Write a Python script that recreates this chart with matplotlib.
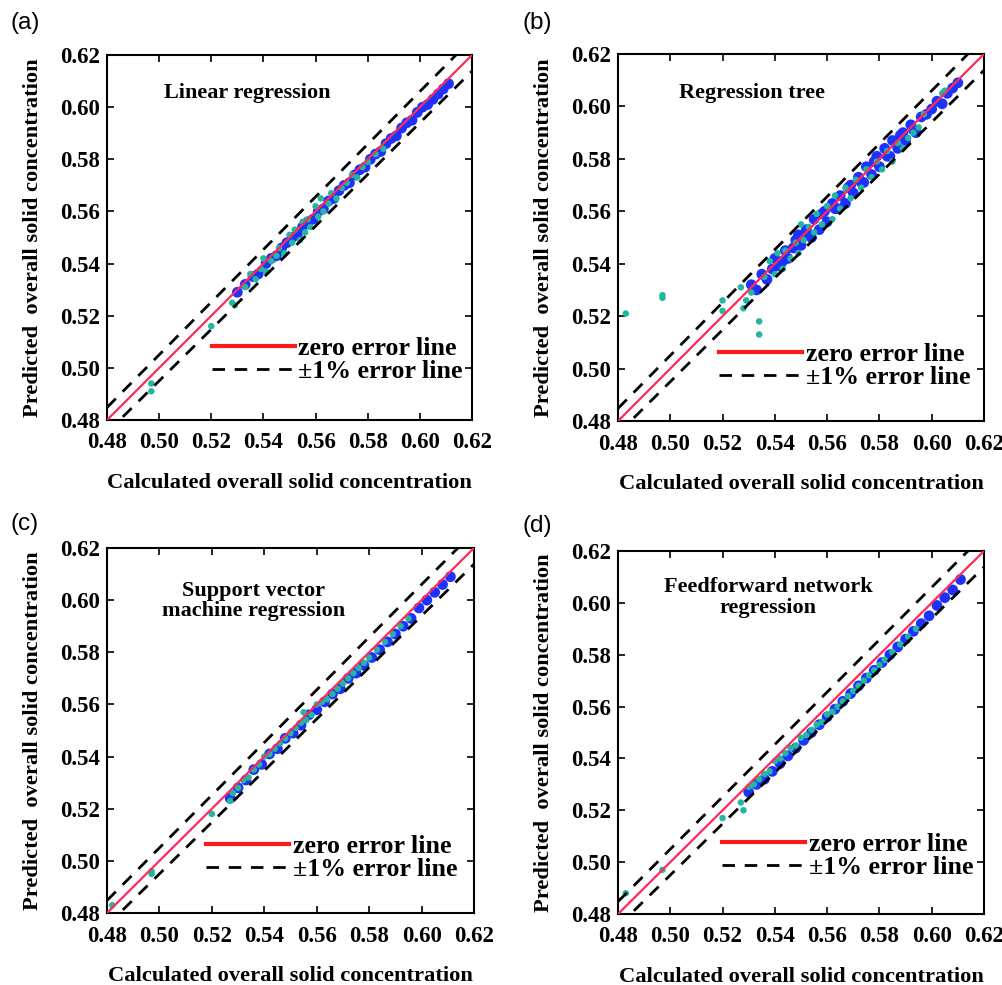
import matplotlib
matplotlib.use("Agg")
import matplotlib.pyplot as plt
from matplotlib.font_manager import FontProperties
import numpy as np

# ---------------- data ----------------
panel_tags = ["(a)", "(b)", "(c)", "(d)"]
panel_titles = ["Linear regression", "Regression tree",
                "Support vector\nmachine regression",
                "Feedforward network\nregression"]
tick_values = [0.48, 0.50, 0.52, 0.54, 0.56, 0.58, 0.60, 0.62]
tick_labels = ["0.48", "0.50", "0.52", "0.54", "0.56", "0.58", "0.60", "0.62"]
err_frac = 0.01

# (a) Linear regression
a_blue_x = [0.530, 0.533, 0.536, 0.538, 0.541, 0.543, 0.545, 0.547, 0.549, 0.551, 0.553, 0.555, 0.557, 0.559,
            0.561, 0.563, 0.565, 0.567, 0.569, 0.571, 0.573, 0.575, 0.577, 0.579, 0.581, 0.583, 0.585, 0.587,
            0.589, 0.591, 0.593, 0.595, 0.597, 0.599, 0.601, 0.603, 0.605, 0.607, 0.609, 0.611]
a_blue_y = [0.529, 0.532, 0.535, 0.536, 0.540, 0.542, 0.543, 0.546, 0.548, 0.550, 0.551, 0.554, 0.556, 0.557,
            0.560, 0.561, 0.564, 0.565, 0.568, 0.570, 0.571, 0.574, 0.576, 0.577, 0.580, 0.582, 0.583, 0.586,
            0.588, 0.589, 0.592, 0.594, 0.595, 0.598, 0.600, 0.601, 0.603, 0.605, 0.607, 0.609]
a_teal_x = [0.497, 0.497, 0.520, 0.528, 0.529, 0.533, 0.535, 0.537, 0.539, 0.540, 0.541, 0.543, 0.545, 0.546,
            0.548, 0.550, 0.551, 0.552, 0.554, 0.555, 0.556, 0.557, 0.558, 0.560, 0.561, 0.562, 0.563, 0.565,
            0.566, 0.568, 0.570, 0.572, 0.574, 0.576, 0.578, 0.580, 0.583, 0.586]
a_teal_y = [0.491, 0.494, 0.516, 0.525, 0.524, 0.531, 0.536, 0.534, 0.538, 0.542, 0.537, 0.541, 0.543, 0.546,
            0.544, 0.551, 0.548, 0.553, 0.549, 0.556, 0.552, 0.557, 0.554, 0.562, 0.558, 0.565, 0.560, 0.563,
            0.567, 0.565, 0.569, 0.571, 0.574, 0.573, 0.577, 0.579, 0.582, 0.584]

# (b) Regression tree
b_blue_x = [0.531, 0.533, 0.535, 0.537, 0.539, 0.540, 0.542, 0.544, 0.545, 0.547, 0.549, 0.550, 0.552, 0.554,
            0.555, 0.557, 0.559, 0.560, 0.562, 0.564, 0.565, 0.567, 0.569, 0.570, 0.572, 0.574, 0.575, 0.577,
            0.579, 0.580, 0.582, 0.584, 0.585, 0.587, 0.589, 0.590, 0.592, 0.594, 0.596, 0.598, 0.600, 0.602,
            0.604, 0.606, 0.608, 0.610, 0.543, 0.548, 0.553, 0.558, 0.563, 0.568, 0.573, 0.578, 0.583, 0.588,
            0.593]
b_blue_y = [0.532, 0.530, 0.536, 0.534, 0.538, 0.542, 0.539, 0.545, 0.542, 0.546, 0.551, 0.547, 0.553, 0.550,
            0.557, 0.553, 0.560, 0.556, 0.563, 0.561, 0.566, 0.563, 0.570, 0.567, 0.573, 0.571, 0.577, 0.574,
            0.581, 0.577, 0.584, 0.581, 0.587, 0.584, 0.590, 0.587, 0.593, 0.590, 0.596, 0.597, 0.599, 0.602,
            0.601, 0.605, 0.607, 0.609, 0.541, 0.549, 0.551, 0.559, 0.561, 0.569, 0.571, 0.579, 0.581, 0.589,
            0.591]
b_teal_x = [0.483, 0.497, 0.497, 0.520, 0.520, 0.527, 0.528, 0.529, 0.531, 0.534, 0.534, 0.536, 0.538, 0.540,
            0.541, 0.543, 0.544, 0.546, 0.548, 0.549, 0.550, 0.551, 0.553, 0.555, 0.556, 0.558, 0.560, 0.562,
            0.563, 0.565, 0.567, 0.569, 0.571, 0.573, 0.575, 0.577, 0.579, 0.581, 0.583, 0.585, 0.587, 0.589,
            0.591, 0.593, 0.595, 0.597, 0.604, 0.605]
b_teal_y = [0.521, 0.527, 0.528, 0.526, 0.522, 0.531, 0.523, 0.526, 0.529, 0.518, 0.513, 0.535, 0.541, 0.536,
            0.544, 0.538, 0.545, 0.542, 0.548, 0.544, 0.555, 0.549, 0.554, 0.552, 0.559, 0.555, 0.562, 0.557,
            0.566, 0.561, 0.569, 0.565, 0.572, 0.569, 0.576, 0.573, 0.579, 0.576, 0.583, 0.579, 0.586, 0.584,
            0.588, 0.590, 0.592, 0.597, 0.605, 0.606]

# (c) Support vector machine regression
c_blue_x = [0.527, 0.530, 0.533, 0.536, 0.539, 0.542, 0.545, 0.548, 0.551, 0.554, 0.557, 0.560, 0.563, 0.566,
            0.569, 0.572, 0.575, 0.578, 0.581, 0.584, 0.587, 0.590, 0.593, 0.596, 0.599, 0.602, 0.605, 0.608,
            0.611]
c_blue_y = [0.524, 0.528, 0.531, 0.535, 0.537, 0.541, 0.543, 0.547, 0.549, 0.552, 0.556, 0.558, 0.561, 0.564,
            0.566, 0.570, 0.572, 0.575, 0.578, 0.581, 0.584, 0.587, 0.590, 0.593, 0.597, 0.600, 0.603, 0.606,
            0.609]
c_teal_x = [0.482, 0.497, 0.497, 0.520, 0.527, 0.528, 0.530, 0.532, 0.534, 0.536, 0.538, 0.540, 0.542, 0.544,
            0.546, 0.548, 0.550, 0.552, 0.554, 0.555, 0.556, 0.558, 0.560, 0.562, 0.564, 0.566, 0.568, 0.570,
            0.572, 0.574, 0.576, 0.578, 0.580, 0.583, 0.586, 0.589, 0.592, 0.595]
c_teal_y = [0.483, 0.496, 0.495, 0.518, 0.523, 0.526, 0.528, 0.531, 0.532, 0.535, 0.537, 0.540, 0.541, 0.543,
            0.545, 0.547, 0.549, 0.551, 0.553, 0.557, 0.554, 0.556, 0.560, 0.561, 0.562, 0.564, 0.566, 0.568,
            0.570, 0.572, 0.574, 0.576, 0.578, 0.581, 0.584, 0.587, 0.590, 0.593]

# (d) Feedforward network regression
d_blue_x = [0.530, 0.533, 0.536, 0.539, 0.542, 0.545, 0.548, 0.551, 0.554, 0.557, 0.560, 0.563, 0.566, 0.569,
            0.572, 0.575, 0.578, 0.581, 0.584, 0.587, 0.590, 0.593, 0.596, 0.599, 0.602, 0.605, 0.608, 0.611]
d_blue_y = [0.527, 0.530, 0.532, 0.535, 0.538, 0.541, 0.544, 0.547, 0.550, 0.553, 0.556, 0.559, 0.562, 0.565,
            0.568, 0.571, 0.574, 0.577, 0.580, 0.583, 0.586, 0.589, 0.592, 0.595, 0.599, 0.602, 0.605, 0.609]
d_teal_x = [0.483, 0.497, 0.520, 0.527, 0.528, 0.530, 0.532, 0.534, 0.536, 0.538, 0.540, 0.542, 0.544, 0.546,
            0.548, 0.550, 0.552, 0.554, 0.556, 0.558, 0.560, 0.562, 0.564, 0.566, 0.568, 0.570, 0.572, 0.574,
            0.576, 0.578, 0.580, 0.582, 0.585, 0.588, 0.591, 0.594]
d_teal_y = [0.488, 0.497, 0.517, 0.523, 0.520, 0.529, 0.530, 0.532, 0.534, 0.535, 0.539, 0.540, 0.542, 0.544,
            0.545, 0.548, 0.549, 0.551, 0.553, 0.554, 0.557, 0.558, 0.560, 0.562, 0.564, 0.566, 0.568, 0.570,
            0.572, 0.574, 0.576, 0.578, 0.581, 0.584, 0.587, 0.590]

blue_sets = [(a_blue_x, a_blue_y), (b_blue_x, b_blue_y), (c_blue_x, c_blue_y), (d_blue_x, d_blue_y)]
teal_sets = [(a_teal_x, a_teal_y), (b_teal_x, b_teal_y), (c_teal_x, c_teal_y), (d_teal_x, d_teal_y)]

# ---------------- figure ----------------
W, H = 1002, 985
fig = plt.figure(figsize=(W / 100, H / 100), dpi=100)
serif = "Liberation Serif"
fp_tick = FontProperties(family=serif, weight="bold", size=16.5)
fp_lab = FontProperties(family=serif, weight="bold", size=16.2)
fp_title = FontProperties(family=serif, weight="bold", size=16)
fp_leg = FontProperties(family=serif, weight="bold", size=18.6)
fp_tag = FontProperties(family="Liberation Sans", size=17.5)

# axes boxes in pixels: left, top, right, bottom
boxes = [(107, 55, 472, 420), (618, 54, 984, 421), (107, 548, 474, 913), (618, 551, 984, 914)]
tag_pos = [(11, 23), (523, 23), (11, 524), (523, 526)]
title_pos = [(0.385, 0.895), (0.365, 0.895), (0.40, 0.855), (0.41, 0.872)]
leg_anchor = [(0.975, 0.100), (0.962, 0.088), (0.954, 0.088), (0.970, 0.097)]

red = "#FF2A55"
for i, (l, t, r, b) in enumerate(boxes):
    ax = fig.add_axes([l / W, 1 - b / H, (r - l) / W, (b - t) / H])
    lo, hi = 0.48, 0.62
    ref = np.array([lo, hi])
    ax.plot(ref, ref, color=red, lw=1.6, zorder=4, label="zero error line")
    ax.plot(ref, ref * (1 + err_frac), color="black", lw=2.0, ls=(0, (4.5, 3.5)), zorder=5,
            label="\u00b11% error line")
    ax.plot(ref, ref * (1 - err_frac), color="black", lw=2.0, ls=(0, (4.5, 3.5)), zorder=5)
    bx, by = blue_sets[i]
    tx, ty = teal_sets[i]
    ax.scatter(bx, by, s=60, color="#1E32FF", edgecolors="none", zorder=2)
    ax.scatter(tx, ty, s=22, color="#22B8A0", edgecolors="none", zorder=3)
    ax.set_xlim(lo, hi)
    ax.set_ylim(lo, hi)
    ax.set_xticks(tick_values)
    ax.set_yticks(tick_values)
    ax.set_xticklabels(tick_labels, fontproperties=fp_tick)
    ax.set_yticklabels(tick_labels, fontproperties=fp_tick)
    ax.tick_params(direction="in", length=5, width=1.2, top=True, right=True)
    ax.tick_params(axis="x", pad=9)
    ax.tick_params(axis="y", pad=5)
    for sp in ax.spines.values():
        sp.set_linewidth(1.5)
    ax.set_xlabel("Calculated overall solid concentration", fontproperties=fp_lab, labelpad=14)
    ax.set_ylabel("Predicted  overall solid concentration", fontproperties=fp_lab, labelpad=12)
    ax.text(title_pos[i][0], title_pos[i][1], panel_titles[i], transform=ax.transAxes,
            ha="center", va="center", fontproperties=fp_title, linespacing=1.05)
    leg = ax.legend(loc="lower right", bbox_to_anchor=leg_anchor[i], frameon=False,
                    prop=fp_leg, handlelength=3.2, handletextpad=0.15, labelspacing=0.0,
                    borderpad=0, borderaxespad=0)
    leg.get_lines()[0].set_linewidth(3)
    leg.get_lines()[0].set_color("#FF1A1A")
    fig.text(tag_pos[i][0] / W, 1 - tag_pos[i][1] / H, panel_tags[i], ha="left", va="center",
             fontproperties=fp_tag)

fig.savefig("out.png", dpi=100, facecolor="white")
